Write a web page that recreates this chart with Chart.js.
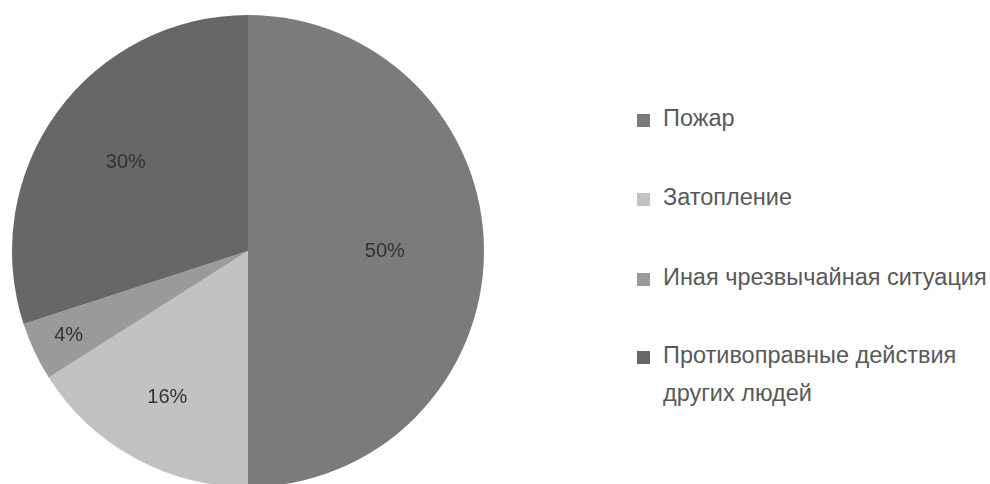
<!DOCTYPE html>
<html>
<head>
<meta charset="utf-8">
<script src="https://cdn.jsdelivr.net/npm/chart.js@4"></script>
<style>
  html, body { margin: 0; padding: 0; background: #fff; width: 990px; height: 484px; overflow: hidden; }
  #wrap { position: absolute; left: 0; top: 0; width: 496px; height: 502px; }
  #legend { position: absolute; left: 637px; top: 0; font-family: "Liberation Sans", Arial, sans-serif; font-size: 23.5px; color: #595959; white-space: nowrap; }
  .item { position: absolute; left: 0; display: flex; align-items: flex-start; }
  .box { width: 13px; height: 13px; margin-top: 6px; margin-right: 13px; flex: none; }
  .txt { line-height: 38px; margin-top: -9px; }
</style>
</head>
<body>
<div id="wrap"><canvas id="chart"></canvas></div>
<div id="legend"></div>
<script>
// данные
const categories = ['Пожар', 'Затопление', 'Иная чрезвычайная ситуация', ['Противоправные действия', 'других людей']];
const values = [50, 16, 4, 30];
const colors = ['#7b7b7b', '#c2c2c2', '#9a9a9a', '#676767'];
const labelRadius = [0.58, 0.71, 0.84, 0.64]; // где писать проценты внутри сектора
const legendTops = [108, 187, 267, 345];

// проценты на секторах
const pctLabels = {
  id: 'pctLabels',
  afterDatasetsDraw(chart) {
    const ctx = chart.ctx;
    const meta = chart.getDatasetMeta(0);
    const total = values.reduce((a, b) => a + b, 0);
    ctx.save();
    ctx.font = '20px "Liberation Sans", Arial, sans-serif';
    ctx.fillStyle = '#333';
    ctx.textAlign = 'center';
    ctx.textBaseline = 'middle';
    meta.data.forEach((arc, i) => {
      const mid = (arc.startAngle + arc.endAngle) / 2;
      const r = arc.outerRadius * labelRadius[i];
      const x = arc.x + Math.cos(mid) * r;
      const y = arc.y + Math.sin(mid) * r;
      ctx.fillText(Math.round(values[i] / total * 100) + '%', x, y);
    });
    ctx.restore();
  }
};

new Chart(document.getElementById('chart'), {
  type: 'pie',
  data: {
    labels: categories,
    datasets: [{
      data: values,
      backgroundColor: colors,
      borderWidth: 0
    }]
  },
  options: {
    responsive: true,
    maintainAspectRatio: false,
    animation: false,
    layout: { padding: 12 },
    plugins: {
      legend: { display: false },
      tooltip: { enabled: false }
    }
  },
  plugins: [pctLabels]
});

// легенда справа
const legend = document.getElementById('legend');
categories.forEach((c, i) => {
  const item = document.createElement('div');
  item.className = 'item';
  item.style.top = legendTops[i] + 'px';
  const box = document.createElement('span');
  box.className = 'box';
  box.style.background = colors[i];
  const txt = document.createElement('span');
  txt.className = 'txt';
  txt.innerHTML = Array.isArray(c) ? c.join('<br>') : c;
  item.appendChild(box);
  item.appendChild(txt);
  legend.appendChild(item);
});
</script>
</body>
</html>
